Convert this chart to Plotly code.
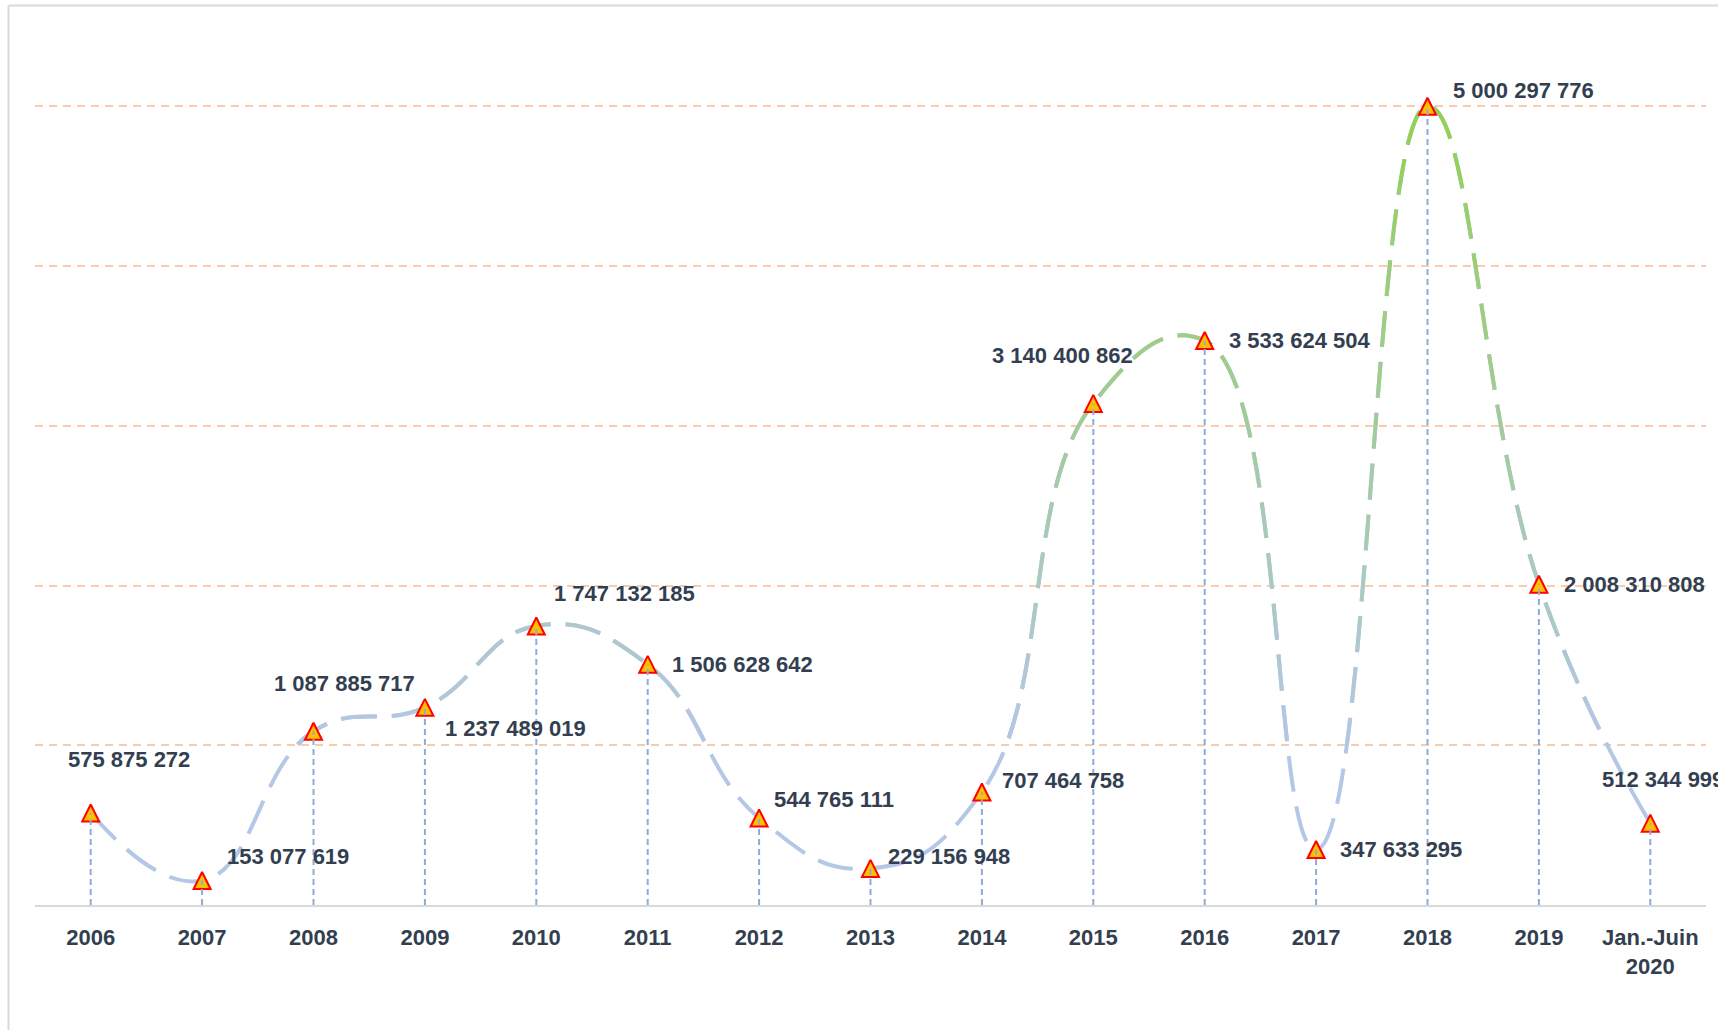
import plotly.graph_objects as go

# data
years = ["2006", "2007", "2008", "2009", "2010", "2011", "2012", "2013",
         "2014", "2015", "2016", "2017", "2018", "2019", "Jan.-Juin<br>2020"]
values = [575875272, 153077619, 1087885717, 1237489019, 1747132185,
          1506628642, 544765111, 229156948, 707464758, 3140400862,
          3533624504, 347633295, 5000297776, 2008310808, 512344999]

# label offsets in px (dx from point to label left edge, dy up)
label_dx = [-25, 23, -42, 18, 16, 22, 13, 15, 18, -103, 22, 22, 23, 23, -50]
label_dy = [54, 24, 48, -21, 32, 0, 18, 12, 12, 48, 0, 0, 16, 0, 44]

ymax = 5.478e9
text_col = "#333f50"
font_fam = "Liberation Sans, Arial, sans-serif"

blue = (180, 199, 231)
green = (146, 208, 80)


def mix(v, lo=1.0e9, hi=5.0e9):
    t = min(max((v - lo) / (hi - lo), 0), 1)
    c = [round(a + (b - a) * t) for a, b in zip(blue, green)]
    return "rgb(%d,%d,%d)" % tuple(c)


fig = go.Figure()

# bands for the colour gradient of the line (each band clips the same spline)
edges = [0, 1.0e9] + [1.0e9 + 0.25e9 * i for i in range(1, 17)] + [ymax]
layout_axes = {}
for i in range(len(edges) - 1):
    e0, e1 = edges[i], edges[i + 1]
    name = "y" if i == 0 else "y%d" % (i + 1)
    fig.add_trace(go.Scatter(
        x=years, y=values, mode="lines", xaxis="x", yaxis=name,
        hoverinfo="skip",
        line=dict(color=mix((e0 + e1) / 2), width=4, dash="36px,15px",
                  shape="spline", smoothing=1.3),
        showlegend=False))
    if i > 0:
        layout_axes["yaxis%d" % (i + 1)] = dict(
            domain=[e0 / ymax, e1 / ymax], range=[e0, e1], visible=False,
            showgrid=False, zeroline=False, anchor="x", fixedrange=True)

top = "y%d" % (len(edges))
layout_axes["yaxis%d" % len(edges)] = dict(
    domain=[0, 1], range=[0, ymax], visible=False, showgrid=False,
    zeroline=False, anchor="x")

# markers + drop lines
fig.add_trace(go.Scatter(
    x=years, y=values, mode="markers", xaxis="x", yaxis=top,
    showlegend=False,
    marker=dict(symbol="arrow-down", angle=180, standoff=8.5, size=17,
                color="#ffc000", line=dict(color="#ff0000", width=2))))

drop_x, drop_y = [], []
for c, v in zip(years, values):
    drop_x += [c, c, None]
    drop_y += [0, v, None]
fig.add_trace(go.Scatter(
    x=drop_x, y=drop_y, mode="lines", xaxis="x", yaxis=top,
    showlegend=False, connectgaps=False,
    line=dict(color="#8faadc", width=2, dash="6px,4px")))

for i, (v, dx, dy) in enumerate(zip(values, label_dx, label_dy)):
    # category axis: annotation x is the category index
    fig.add_annotation(
        x=i, y=v, xref="x", yref="y", text=f"{v:,}".replace(",", " "),
        showarrow=False, xanchor="left", yanchor="middle",
        xshift=dx, yshift=dy,
        font=dict(family=font_fam, size=22, color=text_col, weight="bold"))

W, H = 1718, 1030
ml, mr, mt, mb = 35, 12, 30, 125
pw, ph = W - ml - mr, H - mt - mb

fig.update_layout(
    width=W, height=H,
    margin=dict(l=ml, r=mr, t=mt, b=mb),
    paper_bgcolor="white", plot_bgcolor="rgba(0,0,0,0)",
    showlegend=False,
    xaxis=dict(type="category", categoryorder="array", categoryarray=years,
               range=[-0.5, len(years) - 0.5], autorange=False,
               domain=[0, 1], anchor="y",
               showgrid=False, zeroline=False, showline=True,
               linecolor="#d9d9d9", linewidth=1.5, ticks="",
               ticklabelstandoff=12,
               tickfont=dict(family=font_fam, size=22, color=text_col,
                             weight="bold")),
    yaxis=dict(domain=[0, 1], range=[0, ymax], showticklabels=False,
               showgrid=True, gridcolor="#f8cbad", gridwidth=1.8,
               griddash="8px,6px", dtick=1e9, zeroline=False, ticks=""),
    **layout_axes,
)

# chart border (left and top)
fig.add_shape(type="line", xref="paper", yref="paper",
              x0=(8.5 - ml) / pw, x1=(W - ml) / pw,
              y0=(H - mb - 5.5) / ph, y1=(H - mb - 5.5) / ph,
              line=dict(color="#d9d9d9", width=2))
fig.add_shape(type="line", xref="paper", yref="paper",
              x0=(8.5 - ml) / pw, x1=(8.5 - ml) / pw,
              y0=(H - mb - 5.5) / ph, y1=-mb / ph,
              line=dict(color="#d9d9d9", width=2))

fig.write_html("out.html", config={"displayModeBar": False},
               post_script="document.body.style.margin='0px';")
